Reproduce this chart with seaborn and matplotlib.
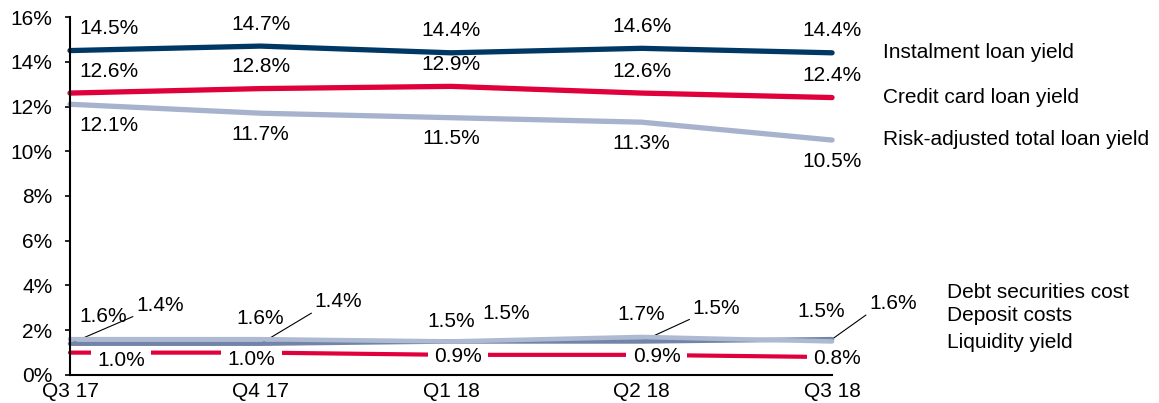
import numpy as np
import pandas as pd
import matplotlib
matplotlib.use('Agg')
import matplotlib.pyplot as plt
import seaborn as sns

# Dados (em %)
quarters = ['Q3 17', 'Q4 17', 'Q1 18', 'Q2 18', 'Q3 18']
instalment = [14.5, 14.7, 14.4, 14.6, 14.4]
credit_card = [12.6, 12.8, 12.9, 12.6, 12.4]
risk_adjusted = [12.1, 11.7, 11.5, 11.3, 10.5]
debt_securities = [1.6, 1.6, 1.5, 1.7, 1.5]
deposit = [1.4, 1.4, 1.5, 1.5, 1.6]
liquidity = [1.0, 1.0, 0.9, 0.9, 0.8]

y_ticks = [0, 2, 4, 6, 8, 10, 12, 14, 16]

sns.set_theme(style='white')
plt.rcParams['font.family'] = ['Liberation Sans', 'DejaVu Sans']

PX = 0.72  # pixels -> points at 100 dpi
FS = 15

# nome, valores, cor, largura, dx dos rótulos, dy dos rótulos, linha guia, offset do nome, zorder
series = [
    ('Instalment loan yield', instalment, '#003865', 3.8,
     [39, 0, 0, 0, 0], [22] * 5, None, (51, 0), 5),
    ('Credit card loan yield', credit_card, '#E0003C', 3.8,
     [39, 0, 0, 0, 0], [22] * 5, None, (51, 0), 5),
    ('Risk-adjusted total loan yield', risk_adjusted, '#A7B2CC', 3.8,
     [39, 0, 0, 0, 0], [-21] * 5, None, (51, 1), 5),
    ('Liquidity yield', liquidity, '#E0003C', 3.0,
     [51, -9, 7, 15, 5], [-8, -7, -2, -2, -1], None, (115, 15), 2),
    ('Deposit costs', deposit, '#7285A8', 3.3,
     [90, 78, 55, 75, 61], [38, 42, 28, 33, 36], [True, True, False, True, True], (115, 24), 4),
    ('Debt securities cost', debt_securities, '#AEBAD2', 3.3,
     [33, 0, 0, 0, -11], [23, 21, 20, 22, 30], None, (115, 49), 4),
]

fig = plt.figure(figsize=(11.59, 4.03), dpi=100)
ax = fig.add_axes([0.0604, 0.0695, 0.6575, 0.8883])

for name, vals, color, lw, dxs, dys, leader, name_off, z in series:
    df = pd.DataFrame({'quarter': quarters, 'value': vals})
    sns.lineplot(data=df, x='quarter', y='value', color=color, linewidth=lw,
                 ax=ax, zorder=z, sort=False, clip_on=False,
                 solid_capstyle='round', solid_joinstyle='round')
    for i, v in enumerate(vals):
        kw = {}
        if name == 'Liquidity yield':
            kw['bbox'] = dict(boxstyle='square,pad=0.3', fc='white', ec='none')
            kw['zorder'] = 2.2
        if leader is not None and leader[i]:
            kw['arrowprops'] = dict(arrowstyle='-', color='black', lw=0.8,
                                    relpos=(0, 0), shrinkA=0, shrinkB=0)
        ax.annotate(f'{v:.1f}%', xy=(i, v), xytext=(dxs[i] * PX, dys[i] * PX),
                    textcoords='offset points', ha='center', va='center',
                    fontsize=FS, color='black', annotation_clip=False, **kw)
    ax.annotate(name, xy=(len(vals) - 1, vals[-1]),
                xytext=(name_off[0] * PX, name_off[1] * PX),
                textcoords='offset points', ha='left', va='center',
                fontsize=FS, color='black', annotation_clip=False)

ax.set_xlim(0, len(quarters) - 1)
ax.set_ylim(0, 16)
ax.set_yticks(y_ticks)
ax.set_yticklabels([f'{t}%' for t in y_ticks])
ax.set_xlabel('')
ax.set_ylabel('')

for s in ['top', 'right']:
    ax.spines[s].set_visible(False)
for s in ['left', 'bottom']:
    ax.spines[s].set_color('black')
    ax.spines[s].set_linewidth(1.5)
    ax.spines[s].set_zorder(6)

ax.tick_params(axis='y', direction='out', length=3.6, width=1.2, color='black',
               labelsize=FS, labelcolor='black', pad=9, left=True)
ax.tick_params(axis='x', length=0, labelsize=FS, labelcolor='black', pad=5)

plt.savefig('out.png', dpi=100)
